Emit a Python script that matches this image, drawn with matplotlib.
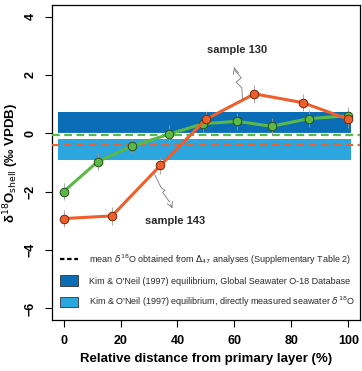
import matplotlib
matplotlib.use("Agg")
from matplotlib import pyplot as plt
from matplotlib.patches import Patch
from matplotlib.lines import Line2D

plt.rcParams['font.family'] = ['Liberation Sans', 'DejaVu Sans']

# sample 130 (green)
x130 = [0, 12, 24, 37, 49, 61, 73, 86, 100]
y130 = [-2.0, -0.97, -0.44, -0.03, 0.33, 0.41, 0.24, 0.5, 0.6]
e130 = [0.3, 0.3, 0.25, 0.3, 0.3, 0.3, 0.3, 0.3, 0.3]
# sample 143 (orange)
x143 = [0, 17, 34, 50, 67, 84, 100]
y143 = [-2.92, -2.83, -1.1, 0.48, 1.35, 1.05, 0.48]
e143 = [0.3, 0.3, 0.3, 0.3, 0.3, 0.3, 0.3]

# equilibrium bands and mean lines
band_global = (0.0, 0.72)
band_measured = (-0.9, -0.18)
mean130 = -0.07
mean143 = -0.4

green = '#5ab946'
orange = '#ef5f2b'
darkblue = '#0b6db6'
lightblue = '#2ba6df'

fig = plt.figure(figsize=(3.62, 3.71), dpi=100)
ax = fig.add_axes([0.144, 0.137, 0.85, 0.85])

ax.fill_between([-2, 101], band_global[0], band_global[1], color=darkblue, lw=0, zorder=1)
ax.fill_between([-2, 101], band_measured[0], band_measured[1], color=lightblue, lw=0, zorder=1)
ax.axhline(mean130, color='white', lw=3, zorder=2)
ax.axhline(mean130, color=green, lw=1.6, ls=(0, (3.5, 2)), zorder=3)
ax.axhline(mean143, color='#e0673c', lw=1.6, ls=(0, (3.5, 2)), zorder=3)

ax.errorbar(x130, y130, yerr=e130, fmt='none', ecolor='#9a9a9a', elinewidth=0.6, zorder=4)
ax.errorbar(x143, y143, yerr=e143, fmt='none', ecolor='#9a9a9a', elinewidth=0.6, zorder=4)
ax.plot(x130, y130, color=green, lw=2.2, zorder=5)
ax.plot(x130, y130, 'o', ms=6.2, mfc=green, mec='#2d4a1e', mew=0.7, zorder=6)
ax.plot(x143, y143, color=orange, lw=2.2, zorder=7)
ax.plot(x143, y143, 'o', ms=6.2, mfc=orange, mec='#6a2a10', mew=0.7, zorder=8)

# squiggly pointers
zx = [62.8, 62.6, 60.6, 62.4, 60.2]
zy = [1.17, 1.55, 1.75, 1.9, 2.15]
ax.plot(zx, zy, color='#777777', lw=0.6, zorder=9)
ax.annotate('', xy=(59.6, 2.35), xytext=(zx[-1], zy[-1]),
            arrowprops=dict(arrowstyle='->', color='#777777', lw=0.6))
ax.text(61, 2.85, 'sample 130', fontsize=8, fontweight='bold', color='#2a2a2a', ha='center', va='center')

sx = [32.0, 34.3, 35.6, 34.8, 37.2]
sy = [-1.42, -1.87, -1.95, -2.02, -2.35]
ax.plot(sx, sy, color='#777777', lw=0.6, zorder=9)
ax.annotate('', xy=(38.6, -2.66), xytext=(sx[-1], sy[-1]),
            arrowprops=dict(arrowstyle='->', color='#777777', lw=0.6))
ax.text(39, -3.0, 'sample 143', fontsize=8, fontweight='bold', color='#2a2a2a', ha='center', va='center')

handles = [
    Line2D([], [], color='black', lw=1.6, ls=(0, (2, 1.2))),
    Patch(facecolor=darkblue, edgecolor='#333333', lw=0.6),
    Patch(facecolor=lightblue, edgecolor='#333333', lw=0.6),
]
labels = [
    r'mean $\delta^{18}$O obtained from $\Delta_{47}$ analyses (Supplementary Table 2)',
    "Kim & O'Neil (1997) equilibrium, Global Seawater O-18 Database",
    r"Kim & O'Neil (1997) equilibrium, directly measured seawater $\delta^{18}$O",
]
ax.legend(handles, labels, loc='lower left', bbox_to_anchor=(0.0, 0.01), frameon=False,
          fontsize=6.5, handlelength=2.0, handleheight=1.4, handletextpad=1.2,
          labelspacing=0.95, borderaxespad=0.6, borderpad=0.3, labelcolor='#2a2a2a')

ax.set_xlim(-4, 104)
ax.set_ylim(-6.4, 4.4)
ax.set_xticks([0, 20, 40, 60, 80, 100])
ax.set_yticks([-6, -4, -2, 0, 2, 4])
ax.tick_params(direction='out', length=5, width=0.8, labelsize=9, pad=6)
for lab in ax.get_xticklabels() + ax.get_yticklabels():
    lab.set_fontweight('bold')
for lab in ax.get_yticklabels():
    lab.set_rotation(90)
    lab.set_va('center')
for s in ax.spines.values():
    s.set_linewidth(0.9)

ax.set_xlabel('Relative distance from primary layer (%)', fontsize=9.5, fontweight='bold', labelpad=4)
ax.set_ylabel(r'δ$^{18}$O$_{\rm shell}$ (‰ VPDB)', fontsize=9.5, fontweight='bold', labelpad=3)

fig.savefig('out.png', dpi=100)
